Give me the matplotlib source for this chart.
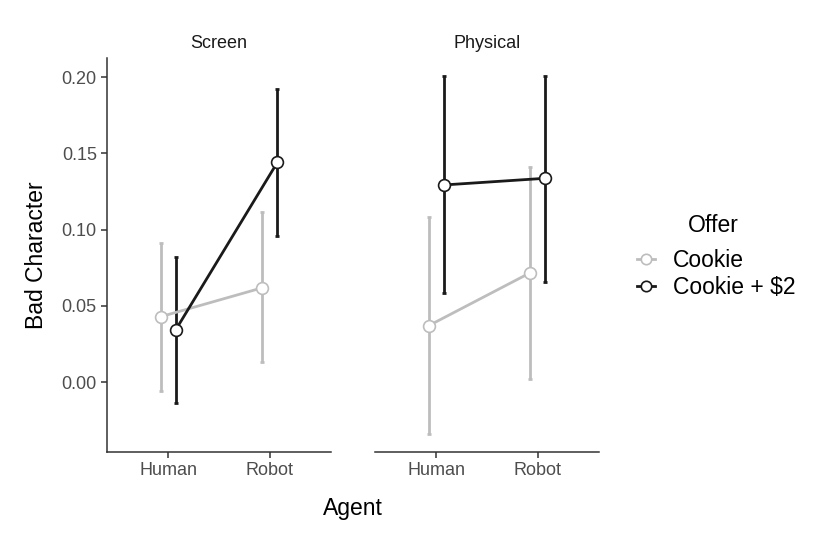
import matplotlib
matplotlib.use("Agg")
import matplotlib.pyplot as plt
from matplotlib.lines import Line2D

plt.rcParams['font.family'] = ['Liberation Sans', 'DejaVu Sans']

panels = ['Screen', 'Physical']
agents = ['Human', 'Robot']
offers = ['Cookie', 'Cookie + $2']
colors = {'Cookie': '#BDBDBD', 'Cookie + $2': '#1A1A1A'}

# mean, lower, upper per panel -> offer -> [Human, Robot]
means = {
    'Screen': {'Cookie': [0.0428, 0.0618], 'Cookie + $2': [0.0341, 0.1441]},
    'Physical': {'Cookie': [0.0369, 0.0717], 'Cookie + $2': [0.1292, 0.1336]},
}
lower = {
    'Screen': {'Cookie': [-0.0057, 0.0129], 'Cookie + $2': [-0.0140, 0.0959]},
    'Physical': {'Cookie': [-0.0341, 0.0018], 'Cookie + $2': [0.0586, 0.0657]},
}
upper = {
    'Screen': {'Cookie': [0.0913, 0.1113], 'Cookie + $2': [0.0822, 0.1921]},
    'Physical': {'Cookie': [0.1084, 0.1412], 'Cookie + $2': [0.2009, 0.2009]},
}

fig = plt.figure(figsize=(8.3, 5.41), dpi=100)
ax_l = fig.add_axes([107/830, 1-452/541, 224/830, (452-57.8)/541])
ax_r = fig.add_axes([375/830, 1-452/541, 224/830, (452-57.8)/541], sharey=ax_l)

dodge = {'Cookie': -0.074, 'Cookie + $2': 0.074}
for ax, panel in zip([ax_l, ax_r], panels):
    for offer in offers:
        xs = [i + 1 + dodge[offer] for i in range(len(agents))]
        m = means[panel][offer]
        lo = [a - b for a, b in zip(m, lower[panel][offer])]
        hi = [b - a for a, b in zip(m, upper[panel][offer])]
        ax.errorbar(xs, m, yerr=[lo, hi], color=colors[offer], lw=2,
                    elinewidth=2, capsize=1.6, capthick=2, fmt='none', zorder=2)
        ax.plot(xs, m, color=colors[offer], lw=2, marker='o', ms=8.5,
                mfc='white', mec=colors[offer], mew=1.2, zorder=3)
    ax.set_xlim(0.4, 2.6)
    ax.set_xticks([1, 2])
    ax.set_xticklabels(agents, fontsize=13, color='#4D4D4D')
    ax.set_title(panel, fontsize=13, color='#1A1A1A', pad=7)
    for s in ['top', 'right']:
        ax.spines[s].set_visible(False)
    for s in ['left', 'bottom']:
        ax.spines[s].set_color('#333333')
        ax.spines[s].set_linewidth(1.1)
    ax.tick_params(color='#333333', length=4.3, width=1.1, pad=3)

ax_l.set_ylim(-0.0459, 0.2126)
ax_l.set_yticks([0.0, 0.05, 0.10, 0.15, 0.20])
ax_l.set_yticklabels(['0.00', '0.05', '0.10', '0.15', '0.20'], fontsize=13, color='#4D4D4D')
ax_r.spines['left'].set_visible(False)
ax_r.tick_params(axis='y', left=False, labelleft=False)

ax_l.set_ylabel('Bad Character', fontsize=16.5)
ax_l.yaxis.set_label_coords((48-107)/224, 0.5)
fig.text((107+599)/2/830, 1-509/541, 'Agent', fontsize=16.5, ha='center', va='center')

fig.text(713/830, 1-226/541, 'Offer', fontsize=16.5, ha='center', va='center')
handles = [Line2D([], [], color=colors[o], lw=2, marker='o', ms=7.5, mfc='white',
                  mec=colors[o], mew=1.2) for o in offers]
leg = fig.legend(handles, offers, loc='center left',
                 bbox_to_anchor=(616/830, 1-274/541), frameon=False, fontsize=16.5,
                 handlelength=0.8, handletextpad=0.8, labelspacing=0.15)

fig.savefig('out.png', dpi=100)
